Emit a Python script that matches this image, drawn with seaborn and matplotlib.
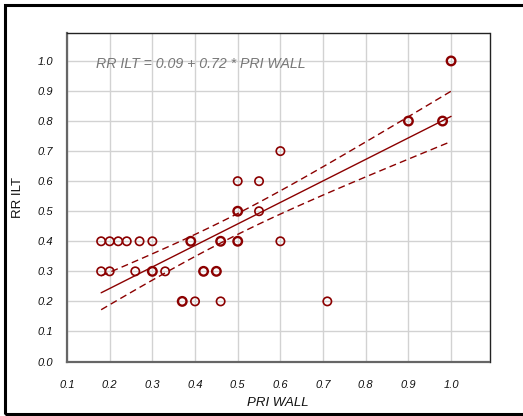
import numpy as np
import pandas as pd
import seaborn as sns
import matplotlib
matplotlib.use("Agg")
import matplotlib.pyplot as plt
from matplotlib.patches import Rectangle

# Data (duplicates = overlapping points)
pri_wall = [0.18, 0.20, 0.22, 0.24, 0.27, 0.30, 0.39, 0.39, 0.46, 0.46, 0.50, 0.50, 0.60,
            0.18, 0.20, 0.26, 0.30, 0.30, 0.33, 0.42, 0.42, 0.45, 0.45,
            0.37, 0.37, 0.40, 0.46, 0.71,
            0.50, 0.50, 0.55,
            0.50, 0.55,
            0.60,
            0.90, 0.90, 0.98, 0.98,
            1.00, 1.00]
rr_ilt = [0.4, 0.4, 0.4, 0.4, 0.4, 0.4, 0.4, 0.4, 0.4, 0.4, 0.4, 0.4, 0.4,
          0.3, 0.3, 0.3, 0.3, 0.3, 0.3, 0.3, 0.3, 0.3, 0.3,
          0.2, 0.2, 0.2, 0.2, 0.2,
          0.5, 0.5, 0.5,
          0.6, 0.6,
          0.7,
          0.8, 0.8, 0.8, 0.8,
          1.0, 1.0]
x_ticks = [0.1, 0.2, 0.3, 0.4, 0.5, 0.6, 0.7, 0.8, 0.9, 1.0]
y_ticks = [0.0, 0.1, 0.2, 0.3, 0.4, 0.5, 0.6, 0.7, 0.8, 0.9, 1.0]
equation = "RR ILT = 0.09 + 0.72 * PRI WALL"

df = pd.DataFrame({"x": pri_wall, "y": rr_ilt})
counts = df.groupby(["x", "y"]).size().reset_index(name="n")
single = counts[counts.n == 1]
multi = counts[counts.n > 1]

# Linear fit with confidence band
x = np.array(pri_wall); y = np.array(rr_ilt)
n = len(x)
b1, b0 = np.polyfit(x, y, 1)
resid = y - (b0 + b1 * x)
s = np.sqrt(np.sum(resid ** 2) / (n - 2))
xs = np.linspace(x.min(), x.max(), 100)
yfit = b0 + b1 * xs
se = s * np.sqrt(1 / n + (xs - x.mean()) ** 2 / np.sum((x - x.mean()) ** 2))
t = 1.686
fit = pd.DataFrame({"x": xs, "fit": yfit, "lo": yfit - t * se, "hi": yfit + t * se})

sns.set_style("white")
plt.rcParams["font.family"] = ["Liberation Sans", "DejaVu Sans"]

fig = plt.figure(figsize=(5.23, 4.16), dpi=100)
ax = fig.add_axes([67 / 523, (416 - 361.5) / 416, (489.5 - 67) / 523, (361.5 - 33) / 416])

red = "#8b0000"
ax.grid(True, color="#d2d2d2", linewidth=1.0, zorder=0)
ax.set_axisbelow(True)

sns.lineplot(data=fit, x="x", y="fit", ax=ax, color=red, linewidth=1.0, zorder=3)
sns.lineplot(data=fit, x="x", y="lo", ax=ax, color=red, linewidth=1.0, linestyle=(0, (5, 3)), zorder=3)
sns.lineplot(data=fit, x="x", y="hi", ax=ax, color=red, linewidth=1.0, linestyle=(0, (5, 3)), zorder=3)

sns.scatterplot(data=single, x="x", y="y", ax=ax, marker="o", s=36, facecolor="none",
                edgecolor=red, linewidth=1.2, zorder=4)
sns.scatterplot(data=multi, x="x", y="y", ax=ax, marker="o", s=38, facecolor="none",
                edgecolor=red, linewidth=1.7, zorder=4)

ax.set_xlim(0.1, 1.09)
ax.set_ylim(0.0, 1.093)
ax.set_xticks(x_ticks)
ax.set_yticks(y_ticks)
ax.set_xticklabels([f"{v:.1f}" for v in x_ticks], fontsize=8, style="italic", color="#111111")
ax.set_yticklabels([f"{v:.1f}" for v in y_ticks], fontsize=8, style="italic", color="#111111")
ax.tick_params(axis="both", direction="out", length=7, width=1.2, color="#555555", pad=3)
ax.tick_params(axis="x", pad=6)

for side in ["left", "bottom"]:
    ax.spines[side].set_color("#666666")
    ax.spines[side].set_linewidth(1.6)
for side in ["top", "right"]:
    ax.spines[side].set_color("#222222")
    ax.spines[side].set_linewidth(1.0)

ax.set_xlabel("PRI WALL", fontsize=9.5, style="italic", color="#111111", labelpad=5)
ax.set_ylabel("RR ILT", fontsize=9.5, color="#111111", labelpad=10)

ax.text(0.168, 0.99, equation, fontsize=10.2, style="italic", color="#777777",
        ha="left", va="center", transform=ax.transData)

fig.patches.append(Rectangle((5 / 523, 2 / 416), 1.0, (414 - 5) / 416, transform=fig.transFigure,
                             fill=False, edgecolor="black", linewidth=2.2))

fig.savefig("out.png", dpi=100)
